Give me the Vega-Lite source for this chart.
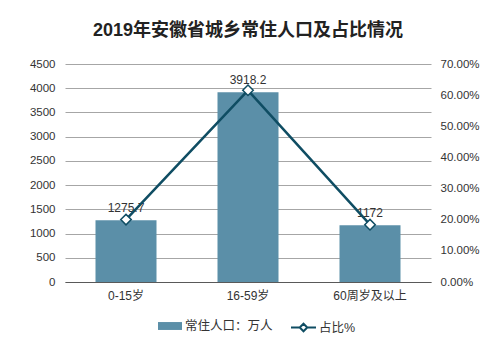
{
  "$schema": "https://vega.github.io/schema/vega-lite/v6.json",
  "width": 366,
  "height": 218,
  "autosize": "none",
  "padding": {"left": 65, "top": 64, "right": 68, "bottom": 71},
  "background": "white",
  "config": {
    "font": "Liberation Sans, Noto Sans CJK SC",
    "view": {"stroke": null},
    "legend": {"padding": 0}
  },
  "title": {
    "text": "2019年安徽省城乡常住人口及占比情况",
    "fontSize": 18,
    "fontWeight": "bold",
    "color": "#222222",
    "anchor": "middle",
    "offset": 18
  },
  "data": {
    "values": [
      {"group": "0-15岁", "pop": 1275.7, "pct": 0.2004},
      {"group": "16-59岁", "pop": 3918.2, "pct": 0.6155},
      {"group": "60周岁及以上", "pop": 1172, "pct": 0.1841}
    ]
  },
  "encoding": {
    "x": {
      "field": "group",
      "type": "nominal",
      "sort": null,
      "scale": {"paddingInner": 0.5, "paddingOuter": 0.25},
      "axis": {
        "title": null,
        "labelAngle": 0,
        "ticks": false,
        "domainColor": "#595959",
        "domainWidth": 1,
        "labelFontSize": 12,
        "labelColor": "#333333",
        "labelPadding": 8
      }
    }
  },
  "layer": [
    {
      "encoding": {
        "y": {
          "field": "pop",
          "type": "quantitative",
          "scale": {"domain": [0, 4500]},
          "axis": {
            "title": null,
            "orient": "left",
            "grid": true,
            "gridColor": "#a6a6a6",
            "domain": false,
            "ticks": false,
            "labelPadding": 10,
            "labelFontSize": 11.5,
            "labelColor": "#333333",
            "labelOverlap": false,
            "format": "d",
            "values": [0, 500, 1000, 1500, 2000, 2500, 3000, 3500, 4000, 4500]
          }
        }
      },
      "layer": [
        {
          "mark": {"type": "bar"},
          "encoding": {
            "fill": {
              "datum": "常住人口：万人",
              "scale": {"range": ["#5B8FA8"]},
              "legend": {
                "title": null,
                "orient": "none",
                "legendX": 93,
                "legendY": 250,
                "symbolType": "M-1,-0.33H1V0.33H-1Z",
                "symbolSize": 576,
                "symbolStrokeWidth": 0,
                "labelOffset": 3,
                "labelFontSize": 12.5,
                "labelColor": "#333333"
              }
            }
          }
        },
        {
          "mark": {"type": "text", "baseline": "bottom", "dy": -5, "fontSize": 12, "color": "#333333"},
          "encoding": {
            "text": {"field": "pop", "type": "quantitative"}
          }
        }
      ]
    },
    {
      "encoding": {
        "y": {
          "field": "pct",
          "type": "quantitative",
          "scale": {"domain": [0, 0.7]},
          "axis": {
            "title": null,
            "orient": "right",
            "grid": false,
            "domain": false,
            "ticks": false,
            "labelPadding": 9,
            "format": ".2%",
            "labelFontSize": 11.5,
            "labelColor": "#333333",
            "labelOverlap": false,
            "values": [0, 0.1, 0.2, 0.3, 0.4, 0.5, 0.6, 0.7]
          }
        }
      },
      "layer": [
        {
          "mark": {"type": "line", "strokeWidth": 2.5},
          "encoding": {
            "stroke": {
              "datum": "占比%",
              "scale": {"range": ["#0F4D63"]},
              "legend": {
                "title": null,
                "orient": "none",
                "legendX": 225,
                "legendY": 250,
                "symbolType": "M-1,0H-0.3M0.3,0H1M-0.3,0L0,-0.3L0.3,0L0,0.3Z",
                "symbolSize": 625,
                "symbolFillColor": "white",
                "symbolStrokeWidth": 2,
                "labelOffset": 2,
                "labelFontSize": 12.5,
                "labelColor": "#333333"
              }
            }
          }
        },
        {
          "mark": {"type": "point", "shape": "diamond", "filled": true, "fill": "white", "stroke": "#0F4D63", "strokeWidth": 1.5, "size": 110, "opacity": 1}
        }
      ]
    }
  ],
  "resolve": {"scale": {"y": "independent"}}
}
